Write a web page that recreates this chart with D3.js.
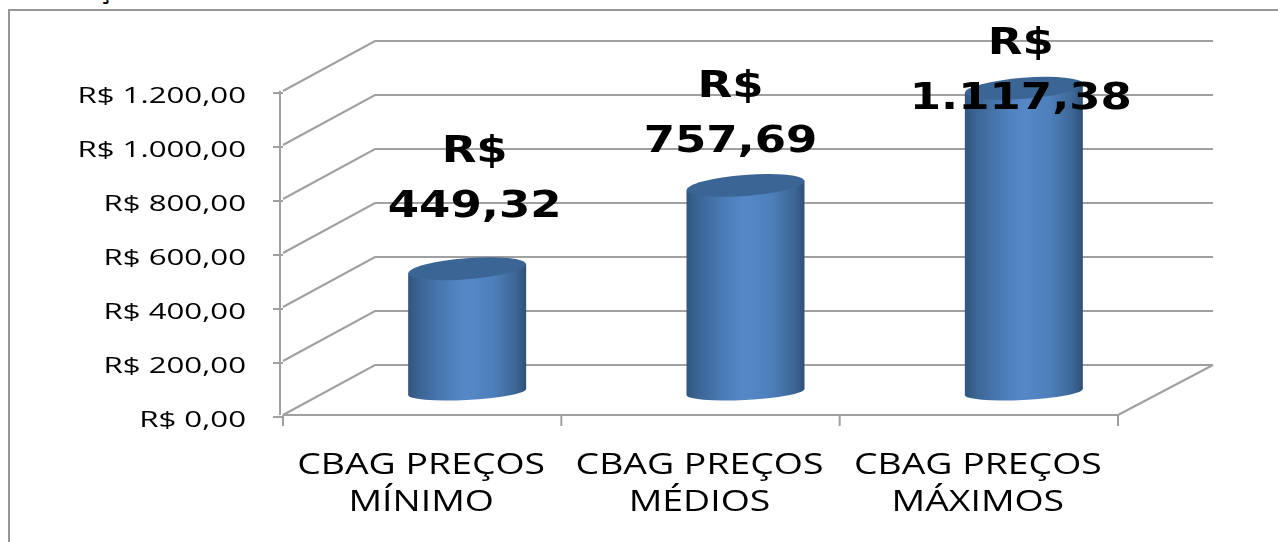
<!DOCTYPE html>
<html lang="en">
<head>
<meta charset="UTF-8">
<title>CBAG preços</title>
<script src="https://d3js.org/d3.v7.min.js"></script>
<style>
    html, body { margin: 0; padding: 0; background: #fff; overflow: hidden; }
    svg { display: block; }
    text { fill: #000; }
</style>
</head>
<body>
<script>
// values
const categories = [['CBAG PREÇOS', 'MÍNIMO'], ['CBAG PREÇOS', 'MÉDIOS'], ['CBAG PREÇOS', 'MÁXIMOS']];
const values = [449.32, 757.69, 1117.38];
const valueLabels = [['R$', '449,32'], ['R$', '757,69'], ['R$', '1.117,38']];
const tickValues = [0, 200, 400, 600, 800, 1000, 1200];
const tickLabels = ['R$ 0,00', 'R$ 200,00', 'R$ 400,00', 'R$ 600,00', 'R$ 800,00', 'R$ 1.000,00', 'R$ 1.200,00'];

const width = 1278, height = 542;
const depthX = 92, depthY = -50;   // 3D offset of the back wall
const gridColor = '#a0a0a0';

// the data labels were hand placed in the original, offsets from the band centre / bar top
const labelDx = [52.5, 30, 42];
const labelDy = [-107, -88, -34];

const svg = d3.select('body').append('svg')
    .attr('width', width)
    .attr('height', height);

const defs = svg.append('defs');
const grad = defs.append('linearGradient').attr('id', 'cyl');
[[0, '#31567f'], [0.1, '#3c6595'], [0.35, '#4d7fba'], [0.5, '#5688c8'], [0.72, '#4d7fbb'], [0.92, '#3c6594'], [1, '#2f5075']].forEach(s => {
    grad.append('stop').attr('offset', s[0]).attr('stop-color', s[1]);
});
defs.append('filter').attr('id', 'soft')
    .append('feGaussianBlur').attr('stdDeviation', 0.7);
defs.append('filter').attr('id', 'softText')
    .attr('x', '-5%').attr('width', '110%')
    .append('feGaussianBlur').attr('stdDeviation', 0.45);

const x = d3.scaleBand().domain(d3.range(categories.length)).range([283, 1118]);
const y = d3.scaleLinear().domain([0, 1200]).range([415, 91]);
const yMid = v => y(v) + depthY / 2;
const barX = i => x(i) + x.bandwidth() / 2 + depthX / 2 - 1;

// chart frame, runs off the top right
svg.append('path')
    .attr('d', 'M9,542V10H1278')
    .attr('fill', 'none')
    .attr('stroke', '#969696')
    .attr('stroke-width', 2);

// clipped title remnant
svg.append('text')
    .attr('x', 105).attr('y', -1)
    .attr('text-anchor', 'middle')
    .attr('font-family', 'DejaVu Sans')
    .attr('font-weight', 'bold')
    .attr('font-size', 24)
    .text('ç');

const walls = svg.append('g')
    .attr('fill', 'none')
    .attr('stroke', gridColor)
    .attr('stroke-width', 2)
    .attr('filter', 'url(#soft)');

// gridlines: side wall + back wall
walls.selectAll('path.grid')
    .data(tickValues)
    .enter()
    .append('path')
    .attr('class', 'grid')
    .attr('d', d => `M283,${y(d)}L${283 + depthX},${y(d) + depthY}H${1118 + depthX + 3}`);

// floor front edge and right edge, value axis
walls.append('path').attr('d', `M1118,${y(0)}L${1118 + depthX + 3},${y(0) + depthY}`);
walls.append('path').attr('d', `M283,${y(0)}H1118`);
walls.append('path').attr('d', `M280,${y(1200)}V${y(0)}`);

// ticks
walls.selectAll('line.ytick')
    .data(tickValues)
    .enter()
    .append('line')
    .attr('class', 'ytick')
    .attr('x1', 273).attr('x2', 283)
    .attr('y1', d => y(d) + 2).attr('y2', d => y(d) + 2);

walls.selectAll('line.xtick')
    .data(d3.range(categories.length + 1))
    .enter()
    .append('line')
    .attr('class', 'xtick')
    .attr('x1', d => x.range()[0] + d * x.step())
    .attr('x2', d => x.range()[0] + d * x.step())
    .attr('y1', y(0)).attr('y2', y(0) + 11);

// value axis labels
svg.selectAll('text.ylab')
    .data(tickValues)
    .enter()
    .append('text')
    .attr('class', 'ylab')
    .attr('transform', d => `translate(246,${y(d) + 12}) scale(1.42,1)`)
    .attr('text-anchor', 'end')
    .attr('font-family', 'Open Sans')
    .attr('font-size', 22)
    .attr('filter', 'url(#softText)')
    .text((d, i) => tickLabels[i]);

// cylinders, centred halfway into the depth
const rx = 59, ry = 10.5, tilt = -4.5;
const bars = svg.append('g').attr('filter', 'url(#soft)').selectAll('g')
    .data(values)
    .enter()
    .append('g')
    .attr('transform', (d, i) => `translate(${barX(i)},0)`);

bars.append('path')
    .attr('fill', 'url(#cyl)')
    .attr('d', d => {
        const t = yMid(d), b = yMid(0) + 2;
        const dy = rx * Math.sin(-tilt * Math.PI / 180);
        return `M${-rx},${t + dy}L${rx},${t - dy}L${rx},${b - 3}` +
            `A${rx},8 -3 0 1 ${-rx},${b + 3}Z`;
    });

bars.append('ellipse')
    .attr('rx', rx)
    .attr('ry', ry)
    .attr('fill', '#3b6594')
    .attr('transform', d => `translate(0,${yMid(d)}) rotate(${tilt})`);

// value labels
const labels = svg.selectAll('text.vlab')
    .data(values)
    .enter()
    .append('text')
    .attr('class', 'vlab')
    .attr('transform', (d, i) => `translate(${x(i) + x.bandwidth() / 2 + labelDx[i]},0) scale(1.185,1)`)
    .attr('text-anchor', 'middle')
    .attr('font-family', 'DejaVu Sans')
    .attr('font-weight', 'bold')
    .attr('font-size', 38)
    .attr('filter', 'url(#softText)');
labels.selectAll('tspan')
    .data((d, i) => valueLabels[i].map(t => ({ t, i, d })))
    .enter()
    .append('tspan')
    .attr('x', 0)
    .attr('y', (d, j) => yMid(d.d) + labelDy[d.i] + j * 55)
    .text(d => d.t);

// category labels
const cats = svg.selectAll('text.cat')
    .data(categories)
    .enter()
    .append('text')
    .attr('class', 'cat')
    .attr('transform', (d, i) => `translate(${x(i) + x.bandwidth() / 2 - 1},0) scale(1.29,1)`)
    .attr('text-anchor', 'middle')
    .attr('font-family', 'Open Sans')
    .attr('font-size', 29)
    .attr('filter', 'url(#softText)');
cats.selectAll('tspan')
    .data((d, i) => d.map(t => ({ t, i })))
    .enter()
    .append('tspan')
    .attr('x', 0)
    .attr('y', (d, j) => 474 + j * 37)
    .text(d => d.t);
</script>
</body>
</html>
